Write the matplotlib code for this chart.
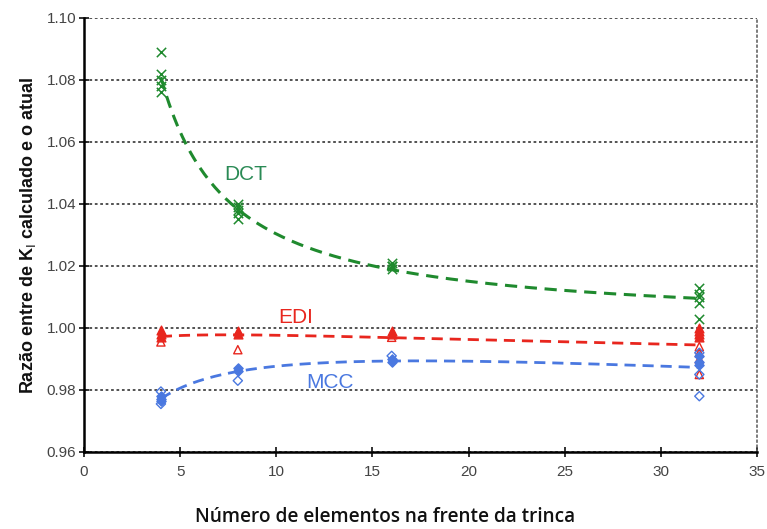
import numpy as np
import matplotlib
matplotlib.use("Agg")
import matplotlib.pyplot as plt

# ---- data ----
dct_x = [4, 4, 4, 4, 4, 8, 8, 8, 8, 8, 16, 16, 16, 16, 32, 32, 32, 32, 32]
dct_y = [1.089, 1.082, 1.080, 1.078, 1.076,
         1.040, 1.039, 1.038, 1.037, 1.035,
         1.021, 1.020, 1.020, 1.019,
         1.013, 1.011, 1.010, 1.008, 1.003]

edi_filled_x = [4, 4, 4, 8, 8, 16, 16, 32, 32, 32, 32]
edi_filled_y = [0.9995, 0.998, 0.997, 0.999, 0.998, 0.999, 0.998, 1.000, 0.999, 0.998, 0.997]
edi_open_x = [4, 8, 16, 32, 32, 32, 32]
edi_open_y = [0.9955, 0.993, 0.997, 0.994, 0.992, 0.990, 0.985]

mcc_filled_x = [4, 4, 4, 8, 8, 16, 16, 32, 32, 32]
mcc_filled_y = [0.978, 0.977, 0.9765, 0.987, 0.986, 0.990, 0.989, 0.991, 0.989, 0.988]
mcc_open_x = [4, 4, 8, 16, 32, 32, 32]
mcc_open_y = [0.9795, 0.9755, 0.983, 0.991, 0.992, 0.985, 0.978]

labels = ["DCT", "EDI", "MCC"]
label_pos_x = [8.4, 11.0, 12.8]
label_pos_y = [1.0495, 1.0035, 0.9825]

xticks = [0, 5, 10, 15, 20, 25, 30, 35]
yticks = [0.96, 0.98, 1.00, 1.02, 1.04, 1.06, 1.08, 1.10]

GREEN = "#1f8a2e"
GREEN_TXT = "#2a8a55"
RED = "#e8261e"
BLUE = "#4a78e0"

fig = plt.figure(figsize=(7.67, 5.29), dpi=100)
ax = fig.add_axes([0.1095, 0.1456, 0.8775, 0.8204])

xs = np.linspace(4, 32, 200)

# DCT trend (fit in 1/x)
c = np.polyfit(1.0 / np.array(dct_x), dct_y, 2)
ax.plot(xs, np.polyval(c, 1.0 / xs), color=GREEN, lw=2.2, ls=(0, (4, 2.5)), zorder=3)
ax.scatter(dct_x, dct_y, marker="x", color=GREEN, s=45, lw=1.1, zorder=4)

# EDI trend
ex = np.array(edi_filled_x + edi_open_x, float)
ey = np.array(edi_filled_y + edi_open_y)
c = np.polyfit(np.log(ex), ey, 2)
edi_line = np.polyval(c, np.log(xs))
# MCC trend
mx = np.array(mcc_filled_x + mcc_open_x, float)
my = np.array(mcc_filled_y + mcc_open_y)
c2 = np.polyfit(np.log(mx), my, 2)
mcc_line = np.polyval(c2, np.log(xs))

ax.plot(xs, edi_line, color=RED, lw=2.0, ls=(0, (4, 2.5)), zorder=3)
ax.plot(xs, mcc_line, color=BLUE, lw=2.0, ls=(0, (4, 2.5)), zorder=3)

ax.scatter(edi_filled_x, edi_filled_y, marker="^", color=RED, s=40, zorder=4)
ax.scatter(edi_open_x, edi_open_y, marker="^", facecolor="none", edgecolor=RED, s=35, lw=1.0, zorder=4)
ax.scatter(mcc_filled_x, mcc_filled_y, marker="D", color=BLUE, s=22, zorder=4)
ax.scatter(mcc_open_x, mcc_open_y, marker="D", facecolor="none", edgecolor=BLUE, s=22, lw=1.0, zorder=4)

for lab, lx, ly, col in zip(labels, label_pos_x, label_pos_y, [GREEN_TXT, RED, BLUE]):
    ax.text(lx, ly, lab, color=col, fontsize=15, ha="center", va="center",
            family="Liberation Sans")

ax.set_xlim(0, 35)
ax.set_ylim(0.96, 1.10)
ax.set_xticks(xticks)
ax.set_yticks(yticks)
ax.set_xticklabels([str(t) for t in xticks])
ax.set_yticklabels([f"{t:.2f}" for t in yticks])
for lbl in ax.get_xticklabels() + ax.get_yticklabels():
    lbl.set_family("Liberation Sans")
    lbl.set_fontsize(11)
    lbl.set_color("#444444")

ax.yaxis.grid(True, ls=(0, (1.5, 1.5)), color="#444444", lw=1.3)
ax.set_axisbelow(True)
ax.spines["top"].set_visible(False)
ax.spines["right"].set_linestyle((0, (1, 2)))
ax.spines["right"].set_color("#666666")
ax.spines["right"].set_linewidth(1.2)
ax.spines["left"].set_linewidth(1.8)
ax.spines["bottom"].set_linewidth(1.8)
ax.tick_params(axis="both", direction="inout", length=7, width=1.3, color="#222222")
ax.tick_params(axis="x", pad=6)
ax.tick_params(axis="y", pad=2)

ax.set_ylabel(r"Razão entre de K$_{\mathrm{I}}$ calculado e o atual", fontsize=13,
              fontweight="bold", family="Liberation Sans", labelpad=6, color="#111111")
fig.text(385 / 767, 1 - 517 / 529, "Número de elementos na frente da trinca", fontsize=13.7,
         fontweight="semibold", family="Open Sans", color="#111111",
         ha="center", va="center")

fig.savefig("out.png", dpi=100)
